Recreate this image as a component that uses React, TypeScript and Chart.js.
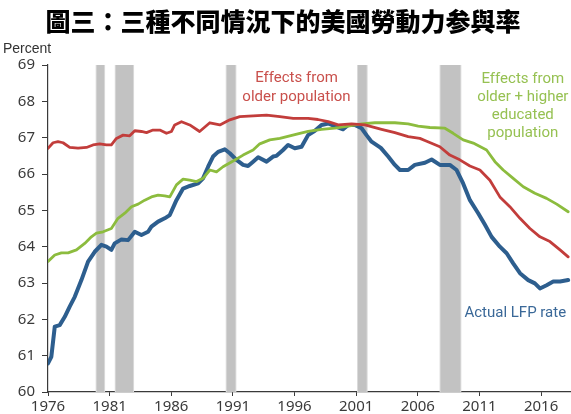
import React, { useEffect, useRef } from "react";
import { Chart, registerables } from "chart.js";

Chart.register(...registerables);

const TITLE = "圖三：三種不同情況下的美國勞動力参與率";
const Y_LABEL = "Percent";

const tickYears = [1976, 1981, 1986, 1991, 1996, 2001, 2006, 2011, 2016];
const tickLabels = ["1976", "1981", "1986", "1991", "1996", "2001", "2006", "2011", "2016"];

const recessions: [number, number][] = [
  [1979.95, 1980.55],
  [1981.5, 1982.9],
  [1990.5, 1991.2],
  [2001.15, 2001.85],
  [2007.85, 2009.45],
];

const actualYears = [
  1976.0, 1976.27, 1976.55, 1976.95, 1977.36, 1977.76, 1978.17, 1978.71, 1979.25, 1979.79,
  1980.33, 1980.74, 1981.14, 1981.41, 1981.96, 1982.5, 1983.04, 1983.58, 1984.12, 1984.39,
  1984.93, 1985.47, 1985.88, 1986.42, 1986.96, 1987.5, 1988.18, 1988.58, 1988.99, 1989.39,
  1989.8, 1990.34, 1990.75, 1991.29, 1991.83, 1992.23, 1992.64, 1993.05, 1993.73, 1994.26,
  1994.54, 1995.07, 1995.48, 1996.02, 1996.57, 1997.1, 1997.65, 1998.19, 1998.73, 1999.41,
  1999.94, 2000.35, 2000.89, 2001.44, 2001.84, 2002.25, 2003.0, 2003.6, 2004.14, 2004.55,
  2005.22, 2005.76, 2006.58, 2007.12, 2007.79, 2008.6, 2009.15, 2009.68, 2010.23, 2010.9,
  2011.45, 2011.99, 2012.66, 2013.21, 2013.74, 2014.29, 2014.96, 2015.5, 2015.91, 2016.45,
  2016.99, 2017.54, 2018.2,
];
const actualValues = [
  60.79, 60.97, 61.8, 61.84, 62.07, 62.35, 62.62, 63.08, 63.59, 63.86,
  64.05, 64.0, 63.91, 64.09, 64.2, 64.18, 64.41, 64.32, 64.41, 64.55,
  64.69, 64.78, 64.87, 65.28, 65.6, 65.67, 65.74, 65.88, 66.2, 66.48,
  66.61, 66.68, 66.57, 66.39, 66.25, 66.22, 66.34, 66.46, 66.34, 66.48,
  66.5, 66.66, 66.8, 66.71, 66.75, 67.07, 67.19, 67.35, 67.39, 67.3,
  67.23, 67.35, 67.35, 67.26, 67.07, 66.89, 66.72, 66.48, 66.25, 66.11,
  66.11, 66.25, 66.31, 66.4, 66.25, 66.25, 66.11, 65.74, 65.28, 64.92,
  64.6, 64.27, 64.0, 63.82, 63.54, 63.27, 63.08, 62.99, 62.85, 62.94,
  63.04, 63.04, 63.08,
];

const olderYears = [
  1976.0, 1976.41, 1976.81, 1977.22, 1977.76, 1978.44, 1979.12, 1979.65, 1980.2, 1980.74,
  1981.14, 1981.55, 1982.09, 1982.63, 1983.04, 1983.58, 1983.99, 1984.52, 1985.07, 1985.61,
  1986.02, 1986.28, 1986.83, 1987.5, 1988.3, 1989.13, 1989.94, 1990.75, 1991.56, 1992.64,
  1993.73, 1994.81, 1995.89, 1997.1, 1997.9, 1998.73, 1999.54, 2000.63, 2001.71, 2003.06,
  2004.14, 2005.22, 2006.17, 2006.58, 2007.79, 2008.6, 2009.41, 2010.23, 2011.04, 2011.85,
  2012.66, 2013.47, 2014.29, 2015.1, 2015.91, 2016.72, 2017.54, 2018.2,
];
const olderValues = [
  66.71, 66.86, 66.89, 66.86, 66.73, 66.71, 66.73, 66.8, 66.83, 66.8,
  66.8, 66.98, 67.07, 67.05, 67.19, 67.17, 67.14, 67.21, 67.21, 67.12,
  67.17, 67.35, 67.44, 67.35, 67.17, 67.41, 67.35, 67.49, 67.58, 67.6,
  67.62, 67.58, 67.53, 67.53, 67.5, 67.44, 67.35, 67.38, 67.35, 67.23,
  67.14, 67.03, 66.98, 66.92, 66.75, 66.52, 66.39, 66.22, 66.11, 65.83,
  65.37, 65.1, 64.78, 64.5, 64.27, 64.14, 63.91, 63.72,
];

const educYears = [
  1976.0, 1976.55, 1977.09, 1977.63, 1978.31, 1978.98, 1979.52, 1979.93, 1980.47, 1981.14,
  1981.68, 1982.23, 1982.77, 1983.31, 1983.85, 1984.39, 1984.93, 1985.47, 1985.88, 1986.42,
  1986.96, 1987.5, 1988.04, 1988.58, 1989.13, 1989.67, 1990.2, 1991.02, 1991.83, 1992.64,
  1993.18, 1993.99, 1994.81, 1995.62, 1996.43, 1997.1, 1998.19, 1999.27, 2000.35, 2001.44,
  2002.52, 2004.14, 2005.22, 2006.03, 2006.98, 2008.2, 2008.87, 2009.68, 2010.5, 2011.58,
  2012.26, 2012.93, 2013.74, 2014.56, 2015.5, 2016.45, 2017.27, 2018.2,
];
const educValues = [
  63.59, 63.77, 63.83, 63.83, 63.91, 64.09, 64.27, 64.37, 64.41, 64.5,
  64.78, 64.92, 65.1, 65.17, 65.28, 65.37, 65.42, 65.4, 65.37, 65.7,
  65.86, 65.83, 65.79, 65.88, 66.11, 66.06, 66.2, 66.36, 66.52, 66.66,
  66.83, 66.94, 66.98, 67.05, 67.12, 67.17, 67.23, 67.26, 67.32, 67.38,
  67.41, 67.41, 67.38, 67.32, 67.28, 67.26, 67.12, 66.94, 66.85, 66.66,
  66.34, 66.11, 65.88, 65.65, 65.47, 65.33, 65.17, 64.96,
];

const RED = "#c23d3b";
const GREEN = "#8cbc3e";
const BLUE = "#2d5e8e";
const AXIS = "#3a3a3a";

const toPoints = (xs: number[], ys: number[]) => xs.map((x, i) => ({ x, y: ys[i] }));

const labelsPlugin = {
  id: "labels",
  beforeDatasetsDraw(chart: any) {
    const { ctx, chartArea, scales } = chart;
    const xs = scales.x;
    ctx.save();
    recessions.forEach(([a, b]) => {
      const x1 = xs.getPixelForValue(a);
      const x2 = xs.getPixelForValue(b);
      ctx.fillStyle = "#dadada";
      ctx.fillRect(x1 - 1, chartArea.top, x2 - x1 + 2, chartArea.bottom - chartArea.top);
      ctx.fillStyle = "#c2c2c2";
      ctx.fillRect(x1, chartArea.top, x2 - x1, chartArea.bottom - chartArea.top);
    });
    ctx.restore();
  },
  afterDraw(chart: any) {
    const { ctx, scales } = chart;
    const xs = scales.x;
    const ys = scales.y;
    ctx.save();
    ctx.textBaseline = "middle";
    ctx.textAlign = "center";
    ctx.fillStyle = "#000";
    ctx.font = "900 25px 'Noto Sans CJK TC'";
    ctx.fillText(TITLE, 283, 21);

    ctx.textAlign = "left";
    ctx.fillStyle = "#333";
    ctx.font = "14px 'Liberation Sans'";
    ctx.fillText(Y_LABEL, 3, 49);

    ctx.textAlign = "center";
    ctx.font = "15px Roboto";
    const drawLines = (lines: string[], color: string, xv: number, yv: number[]) => {
      ctx.fillStyle = color;
      lines.forEach((t, i) => ctx.fillText(t, xs.getPixelForValue(xv), ys.getPixelForValue(yv[i])));
    };
    drawLines(["Effects from", "older population"], "#c9504c", 1996.16, [68.64, 68.12]);
    drawLines(
      ["Effects from", "older + higher", "educated", "population"],
      "#96c152",
      2014.52,
      [68.62, 68.12, 67.63, 67.13]
    );
    drawLines(["Actual LFP rate"], "#3a6898", 2013.91, [62.18]);
    ctx.restore();
  },
};

export default function App() {
  const ref = useRef<HTMLCanvasElement | null>(null);
  useEffect(() => {
    if (!ref.current) return;
    const chart = new Chart(ref.current, {
      type: "line",
      data: {
        datasets: [
          {
            label: "Effects from older population",
            data: toPoints(olderYears, olderValues),
            borderColor: RED,
            borderWidth: 2.8,
          },
          {
            label: "Effects from older + higher educated population",
            data: toPoints(educYears, educValues),
            borderColor: GREEN,
            borderWidth: 2.8,
          },
          {
            label: "Actual LFP rate",
            data: toPoints(actualYears, actualValues),
            borderColor: BLUE,
            borderWidth: 4,
          },
        ],
      },
      options: {
        animation: false,
        responsive: false,
        maintainAspectRatio: false,
        layout: { padding: { top: 65, left: 0, right: 0, bottom: 0 } },
        elements: {
          point: { radius: 0 },
          line: { tension: 0, borderJoinStyle: "round", borderCapStyle: "round" },
        },
        plugins: {
          legend: { display: false },
          tooltip: { enabled: false },
          title: { display: false },
        },
        scales: {
          x: {
            type: "linear",
            min: 1976,
            max: 2018.43,
            afterBuildTicks: (scale: any) => {
              scale.ticks = tickYears.map((v) => ({ value: v }));
            },
            afterFit: (scale: any) => {
              scale.height = 22;
            },
            ticks: {
              autoSkip: false,
              maxRotation: 0,
              padding: 2,
              color: AXIS,
              font: { family: "'Noto Sans'", size: 15 },
              callback: (v: any) => {
                const i = tickYears.indexOf(Number(v));
                return i >= 0 ? tickLabels[i] : "";
              },
            },
            grid: {
              display: true,
              drawOnChartArea: false,
              drawTicks: true,
              tickLength: 4,
              color: AXIS,
            },
            border: { display: true, color: AXIS, width: 1.2 },
          },
          y: {
            type: "linear",
            min: 60,
            max: 69,
            afterFit: (scale: any) => {
              scale.width = 48;
            },
            ticks: {
              stepSize: 1,
              padding: 7,
              color: AXIS,
              font: { family: "'Noto Sans'", size: 15 },
            },
            grid: {
              display: true,
              drawOnChartArea: false,
              drawTicks: true,
              tickLength: 6,
              color: AXIS,
            },
            border: { display: true, color: AXIS, width: 1.2 },
          },
        },
      },
      plugins: [labelsPlugin],
    });
    return () => chart.destroy();
  }, []);
  return (
    <div style={{ position: "absolute", left: 0, top: 0, width: 571, height: 414, background: "#fff" }}>
      <canvas ref={ref} width={571} height={414} style={{ display: "block" }} />
    </div>
  );
}
